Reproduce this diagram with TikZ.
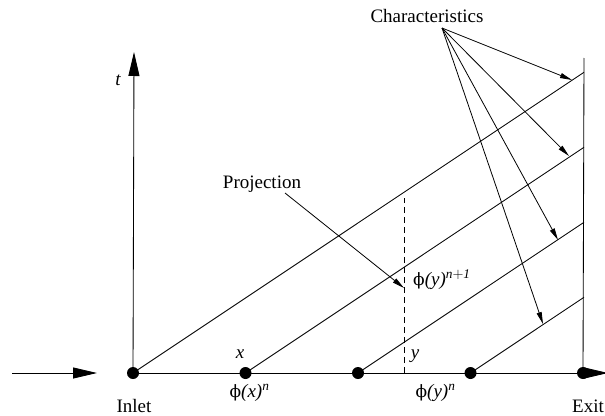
\documentclass[tikz,border=0pt]{standalone}
\usepackage{fontspec}
\setmainfont{Liberation Serif}
\newfontfamily\phifont{DejaVu Serif}
\usetikzlibrary{arrows.meta}
\newcommand{\myphi}{{\phifont\fontsize{17}{20}\selectfont ϕ}}
\begin{document}
\begin{tikzpicture}[x=1pt,y=-1pt,
  lbl/.style={font=\fontsize{19}{22}\selectfont, inner sep=0pt, anchor=base},
  dot/.style={circle, fill=black, minimum size=12pt, inner sep=0pt},
  line/.style={line width=0.85pt},
  bigtip/.style={line width=0.85pt, -{Triangle[length=24pt,width=11pt]}},
  smalltip/.style={line width=0.8pt, -{Triangle[length=12pt,width=5pt]}},
  dashline/.style={line width=0.85pt, dash pattern=on 6pt off 4pt}]
\useasboundingbox (0,0) rectangle (605,415);
\clip (0,0) rectangle (605,415);
% dots
\node[dot] (inlet) at (133,373) {};
\node[dot] (d1) at (245.5,373) {};
\node[dot] (d2) at (358,373) {};
\node[dot] (d3) at (470.5,373) {};
\node[dot] (exit) at (583,373) {};
% coordinates
\coordinate (instart) at (12,373);
\coordinate (inend) at (97,373);
\coordinate (ttop) at (134,52);
\coordinate (extop) at (584,58);
\coordinate (beyond) at (608,373);
\coordinate (e0) at (584,72.3);
\coordinate (e1) at (584,147.3);
\coordinate (e2) at (584,222.3);
\coordinate (e3) at (584,297.3);
\coordinate (dtop) at (404,198);
\coordinate (dbot) at (404,373);
% axes and base line
\draw[bigtip] (instart) -- (inend);
\draw[bigtip] (inlet.center) -- (ttop);
\draw[line] (inlet.center) -- (exit.center);
\draw[bigtip] (exit.center) -- (beyond);
\draw[line] (exit.center) -- (extop);
% characteristics
\draw[line] (inlet.center) -- (e0);
\draw[line] (d1.center) -- (e1);
\draw[line] (d2.center) -- (e2);
\draw[line] (d3.center) -- (e3);
% dashed projection line
\draw[dashline] (dbot) -- (dtop);
% labels
\node[lbl] (charlbl) at (427,23) {Characteristics};
\coordinate (corig) at (442,28);
\coordinate (c0) at (572,80);
\coordinate (c1) at (569,156);
\coordinate (c2) at (558,240);
\coordinate (c3) at (543,324);
\draw[smalltip] (corig) -- (c0);
\draw[smalltip] (corig) -- (c1);
\draw[smalltip] (corig) -- (c2);
\draw[smalltip] (corig) -- (c3);
\node[lbl] (proj) at (262,188) {Projection};
\coordinate (ptail) at (285,193);
\coordinate (ptip) at (404,288);
\draw[smalltip] (ptail) -- (ptip);
\node[lbl] (tlbl) at (118,85) {\itshape t};
\node[lbl] (xlbl) at (240,358) {\itshape x};
\node[lbl] (ylbl) at (415,358) {\itshape y};
\node[lbl] (phix) at (249.5,397) {\myphi\itshape(x)$^{\mathit{n}}$};
\node[lbl] (phiy) at (435.5,397) {\myphi\itshape(y)$^{\mathit{n}}$};
\node[lbl, anchor=base west] (phiyn) at (413,285) {\myphi\itshape(y)$^{\mathit{n+1}}$};
\node[lbl] (inlbl) at (134,412) {Inlet};
\node[lbl, anchor=base west] (exlbl) at (572,412) {Exit};
\end{tikzpicture}
\end{document}
